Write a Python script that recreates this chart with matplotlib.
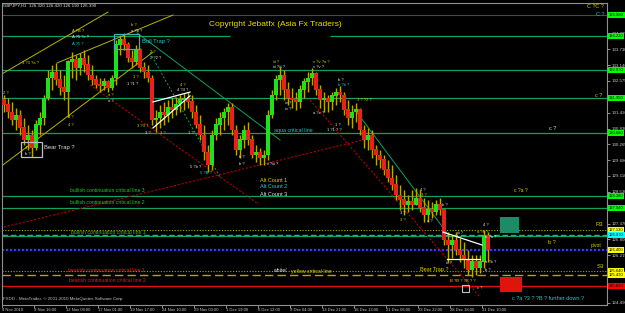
import matplotlib
matplotlib.use("Agg")
import matplotlib.pyplot as plt
from matplotlib.patches import Rectangle
from matplotlib.transforms import blended_transform_factory

plt.rcParams["font.family"] = ["Liberation Sans", "DejaVu Sans"]

W, H = 625, 313

# --- price data: one drawn candle per 8 H1 bars (GBPJPY H1, Nov-Dec 2010) ---
bars_per_candle = 8
first_open = 131.88
highs = [
    132.06, 131.95, 131.81, 131.59, 131.52, 131.22, 130.97, 130.78, 131.15, 131.44,
    132.06, 132.97, 133.16, 133.23, 132.97, 132.79, 133.34, 133.63, 133.52, 133.60,
    133.71, 133.52, 133.16, 132.79, 132.68, 132.68, 132.61, 132.79, 134.07, 134.25,
    134.32, 134.00, 133.71, 133.89, 133.78, 133.27, 133.16, 132.79, 131.52, 131.70,
    131.81, 131.88, 131.95, 131.99, 132.06, 132.14, 132.17, 132.06, 131.70, 131.33,
    130.97, 130.24, 130.78, 131.22, 131.44, 131.59, 131.77, 131.77, 130.97, 130.60,
    130.97, 131.08, 130.60, 130.24, 130.13, 130.06, 131.52, 132.25, 132.79, 133.08,
    132.97, 132.54, 132.32, 132.17, 132.43, 132.68, 132.90, 133.05, 132.90, 132.43,
    132.17, 132.06, 132.17, 132.32, 132.39, 132.17, 131.88, 131.70, 131.77, 131.59,
    130.97, 130.86, 130.78, 130.24, 130.06, 129.87, 129.69, 129.51, 129.14, 128.78,
    128.60, 128.41, 128.60, 128.67, 128.60, 128.30, 128.23, 128.16, 128.23, 128.30,
    127.87, 127.06, 126.95, 127.06, 126.84, 126.70, 126.40, 126.22, 126.22, 126.22,
    127.13, 127.06,
]
lows = [
    131.44, 131.22, 130.97, 130.78, 130.60, 130.24, 130.06, 129.80, 130.06, 130.60,
    130.97, 131.88, 132.25, 132.43, 132.06, 131.88, 131.26, 132.68, 132.61, 132.79,
    132.90, 132.61, 132.43, 132.32, 132.17, 132.25, 132.17, 132.25, 132.43, 133.52,
    133.71, 133.27, 133.05, 133.16, 132.90, 132.68, 132.54, 130.97, 130.71, 130.86,
    130.97, 131.08, 131.22, 131.33, 131.44, 131.52, 131.59, 131.22, 130.86, 130.42,
    129.69, 129.25, 129.33, 130.42, 130.60, 130.78, 130.97, 130.60, 129.87, 129.76,
    130.13, 130.24, 129.76, 129.62, 129.51, 129.51, 129.69, 131.22, 131.88, 132.06,
    131.88, 131.70, 131.59, 131.52, 131.59, 131.95, 132.17, 132.43, 132.06, 131.59,
    131.44, 131.44, 131.52, 131.70, 131.81, 131.33, 130.97, 130.86, 131.08, 130.60,
    130.13, 130.06, 129.76, 129.51, 129.40, 129.14, 128.89, 128.60, 128.23, 127.87,
    127.68, 127.79, 127.87, 128.05, 127.79, 127.43, 127.43, 127.57, 127.68, 127.68,
    126.59, 125.97, 126.11, 126.22, 125.97, 125.75, 125.49, 125.42, 125.49, 125.57,
    125.75, 125.97,
]
closes = [
    131.70, 131.44, 131.15, 131.33, 130.86, 130.42, 130.60, 130.13, 130.97, 131.22,
    131.95, 132.68, 132.90, 132.61, 132.32, 132.17, 133.27, 133.34, 133.05, 133.41,
    133.16, 132.79, 132.61, 132.43, 132.39, 132.54, 132.32, 132.68, 133.89, 134.07,
    133.89, 133.41, 133.27, 133.71, 133.05, 132.90, 132.68, 131.15, 131.22, 131.44,
    131.33, 131.59, 131.52, 131.73, 131.88, 131.95, 131.81, 131.44, 130.97, 130.60,
    129.98, 129.51, 130.60, 130.97, 131.22, 131.44, 131.59, 130.78, 130.06, 130.42,
    130.78, 130.42, 129.87, 129.98, 129.76, 129.87, 131.33, 132.06, 132.61, 132.79,
    132.25, 131.95, 131.88, 131.81, 132.25, 132.54, 132.68, 132.83, 132.25, 131.88,
    131.95, 131.81, 132.03, 132.17, 132.06, 131.52, 131.22, 131.44, 131.52, 130.78,
    130.42, 130.60, 130.06, 129.87, 129.69, 129.33, 129.03, 128.78, 128.41, 128.23,
    128.05, 128.16, 128.05, 128.30, 127.94, 127.68, 127.87, 127.79, 128.05, 127.87,
    126.77, 126.59, 126.77, 126.40, 126.22, 126.04, 125.68, 125.97, 125.75, 125.97,
    126.95, 126.39,
]

# --- horizontal levels ---
green_levels = [132.97, 131.95, 130.68, 128.38, 127.94, 126.93]
copyright_level = 134.22
top_level = 134.98
r3_level = 127.13
bull1_level = 126.97
pivot_level = 126.40
s3_level = 125.64
yellow_dash_level = 125.49
red_level = 125.09

# right-hand price boxes (price, colour)
price_boxes = [
    (134.98, "#00ff00"), (134.22, "#00ff00"), (132.97, "#00ff00"),
    (131.95, "#00ff00"), (130.68, "#00ff00"), (128.38, "#00ff00"),
    (127.94, "#00ff00"), (127.13, "#ffff00"), (126.97, "#00ffff"),
    (126.40, "#ffff00"), (125.64, "#ffff00"), (125.49, "#ffff00"),
    (125.09, "#ff0000"),
]

# analyst trend lines ((bar, price), (bar, price))
yellow_lines = [((-4, 132.79), (212, 135.09)),
                ((110, 133.23), (342, 134.98)),
                ((-4, 129.43), (302, 133.63))]
red_lines = [((176, 132.43), (510, 128.12)),
             ((-4, 127.21), (730, 130.46)),
             ((616, 131.88), (956, 124.69))]
green_lines = [((270, 134.33), (556, 130.42)),
               ((706, 131.52), (896, 126.88))]
green_dotted = [((296, 133.60), (436, 129.07))]
white_lines = [((302, 131.81), (376, 132.17)),
               ((302, 130.86), (376, 132.03)),
               ((882, 127.06), (960, 126.59)),
               ((890, 126.08), (956, 126.08))]

ytick_values = [124.490, 125.060, 125.640, 126.215, 126.800, 127.370, 127.950,
                128.530, 129.110, 129.680, 130.265, 130.830, 131.420, 131.995,
                132.575, 133.140, 133.730, 134.295]
xtick_labels = ["4 Nov 2010", "9 Nov 16:00", "12 Nov 08:00", "17 Nov 01:00",
                "19 Nov 17:00", "24 Nov 10:00", "29 Nov 03:00", "1 Dec 19:00",
                "6 Dec 12:00", "9 Dec 04:00", "13 Dec 21:00", "16 Dec 13:00",
                "21 Dec 06:00", "23 Dec 22:00", "28 Dec 18:00", "31 Dec 10:00"]
bars_per_label = 64

fig = plt.figure(figsize=(W / 100, H / 100), dpi=100, facecolor="black")
ax = fig.add_axes([2 / W, 8 / H, 605 / W, 302 / H], facecolor="black")
ax.set_xlim(0, 1210)
ax.set_ylim(124.40, 135.42)

GREEN = "#12a05a"
YEL = "#d8d000"
CYAN = "#20c8c8"
WHITE = "#e0e0e0"

# horizontal lines
for lv in green_levels:
    ax.axhline(lv, color=GREEN, lw=0.9, zorder=1)
ax.axhline(top_level, color="#0a6a3a", lw=0.8, zorder=1)
ax.hlines(copyright_level, 0, 456, color=GREEN, lw=0.9, zorder=1)
ax.hlines(copyright_level, 656, 1210, color=GREEN, lw=0.9, zorder=1)
ax.axhline(r3_level, color="#b0a800", lw=0.8, ls=(0, (1, 1.5)), zorder=1)
ax.axhline(bull1_level, color="#20b090", lw=1.0, ls=(0, (4, 2)), zorder=1)
ax.axhline(pivot_level, color="#3838ff", lw=1.6, ls=(0, (1, 0.8)), zorder=1)
ax.axhline(s3_level, color="#a8a000", lw=0.8, ls=(0, (1, 1.5)), zorder=1)
ax.axhline(yellow_dash_level, color="#b0a800", lw=1.0, ls=(0, (6, 3)), zorder=1)
ax.axhline(red_level, color="#e01010", lw=1.0, zorder=1)

# trend lines
for (x0, y0), (x1, y1) in yellow_lines:
    ax.plot([x0, x1], [y0, y1], color="#b4b400", lw=0.7, zorder=2)
for (x0, y0), (x1, y1) in red_lines:
    ax.plot([x0, x1], [y0, y1], color="#b00000", lw=0.8, ls=(0, (2, 1.5)), zorder=2)
for (x0, y0), (x1, y1) in green_lines:
    ax.plot([x0, x1], [y0, y1], color=GREEN, lw=0.7, zorder=2)
for (x0, y0), (x1, y1) in green_dotted:
    ax.plot([x0, x1], [y0, y1], color=GREEN, lw=0.7, ls=(0, (2, 2)), zorder=2)
for (x0, y0), (x1, y1) in white_lines:
    ax.plot([x0, x1], [y0, y1], color="white", lw=0.9, zorder=4)

# candles
opens = [first_open] + closes[:-1]
for k, (o, h, l, c) in enumerate(zip(opens, highs, lows, closes)):
    x = k * bars_per_candle + bars_per_candle / 2
    col = "#1ee01e" if c >= o else "#e82020"
    ax.vlines(x, l, h, color="#b8a800", lw=1.0, zorder=3)
    ax.bar(x, abs(c - o) + 0.02, bottom=min(o, c), width=7.0, color=col,
           linewidth=0, zorder=3)

# boxes
ax.add_patch(Rectangle((224, 133.74), 50, 0.55, fill=False, ec="#40b0b0", lw=0.9, zorder=5))
ax.add_patch(Rectangle((38, 129.80), 42, 0.55, fill=False, ec="#c0c0c0", lw=0.9, zorder=5))
ax.add_patch(Rectangle((920, 124.87), 14, 0.26, fill=False, ec="#c0c0c0", lw=0.8, zorder=5))
ax.add_patch(Rectangle((996, 127.03), 38, 0.58, color="#1e8a68", lw=0, zorder=2))
ax.add_patch(Rectangle((996, 124.87), 44, 0.55, color="#e0140a", lw=0, zorder=2))

# axes styling
for sp in ax.spines.values():
    sp.set_color("#909090")
    sp.set_linewidth(0.8)
ax.yaxis.tick_right()
ax.set_yticks(ytick_values)
ax.set_yticklabels([f"{v:.3f}" for v in ytick_values])
ax.set_xticks([i * bars_per_label for i in range(len(xtick_labels))])
ax.set_xticklabels(xtick_labels)
ax.tick_params(axis="y", colors="#c8c8c8", labelsize=3.2, length=2, width=0.5, pad=1)
ax.tick_params(axis="x", colors="#c8c8c8", labelsize=3.0, length=2, width=0.5, pad=0.5)
for t in ax.get_xticklabels():
    t.set_ha("left")

# price boxes on the right
tr = blended_transform_factory(ax.transAxes, ax.transData)
for p, col in price_boxes:
    ax.text(1.003, p, f"{p:.3f}", transform=tr, ha="left", va="center",
            fontsize=3.0, color="black", clip_on=False, zorder=6,
            bbox=dict(boxstyle="square,pad=0.25", fc=col, ec="none"))


def label(px, py, s, color, size=3.2, **kw):
    fig.text(px / W, 1 - py / H, s, color=color, fontsize=size, ha="left",
             va="center", **kw)


label(3, 6, "GBPJPY,H1  126.320 126.420 126.190 126.390", WHITE, 3.2)
label(209, 25, "Copyright Jebatfx (Asia Fx Traders)", "#e8e000", 6.0)
label(142, 41, "Bull Trap ?", CYAN, 4.2)
label(44, 148, "Bear Trap ?", WHITE, 4.2)
label(274, 130, "aqua critical line", CYAN, 3.8)
label(260, 180, "Alt Count 1", YEL, 4.0)
label(260, 187, "Alt Count 2", CYAN, 4.0)
label(260, 194, "Alt Count 3", WHITE, 4.0)
label(70, 190, "bullish continuation critical line 3", "#30c030", 3.7)
label(70, 203, "bullish continuation critical line 2", "#30c030", 3.7)
label(71, 233, "bullish continuation critical line 1", "#30c030", 3.7)
label(68, 270, "bearish continuation critical line 1", "#e02020", 3.7)
label(69, 281, "bearish continuation critical line 2", "#e02020", 3.7)
label(273, 271, "white/", WHITE, 3.7)
label(291, 271, "yellow critical line", YEL, 3.7)
label(420, 270, "Bear Trap ?", YEL, 4.0)
label(596, 225, "R3", YEL, 4.2)
label(591, 246, "pivot", YEL, 3.6)
label(597, 266, "S3", YEL, 4.2)
label(548, 242, "b ?", YEL, 4.0)
label(512, 299, "c ?a ?3 ? ?B ? further down ?", CYAN, 4.0)
label(587, 7, "C ?C ?", YEL, 4.0)
label(596, 15, "C ?", CYAN, 4.0)
label(595, 95, "c ?", YEL, 4.0)
label(549, 129, "c ?", WHITE, 4.0)
label(514, 191, "c ?a ?", YEL, 3.6)
label(3, 299, "FXDD - MetaTrader, \u00a9 2001-2010 MetaQuotes Software Corp.", "#c0c0c0", 3.2)

wave_labels = [
    (72, 31, "A ?B ?", YEL), (72, 37, "A ?5 ?c ?", WHITE), (72, 44, "A ?5 ?", CYAN),
    (131, 25, "b ?", YEL), (131, 31, "a ?b ?", WHITE), (22, 63, "3 ?3 ?a ?", YEL),
    (3, 93, "2 ?", YEL), (150, 52, "2 ?", YEL), (150, 58, "2 ?2 ?", WHITE),
    (133, 77, "1 ?", YEL), (127, 84, "1 ?1 ?", WHITE), (108, 95, "a ?", YEL),
    (108, 101, "a ?", WHITE), (180, 85, "4 ?", YEL), (177, 90, "4 ?4 ?", WHITE),
    (68, 117, "4 ?", YEL), (68, 125, "4 ?", YEL), (25, 148, "4 ?", YEL),
    (25, 154, "b ?", WHITE), (137, 126, "3 ?3 ?", YEL), (145, 133, "3 ?", WHITE),
    (160, 133, "3 ?", YEL), (188, 133, "1 ?", WHITE), (190, 167, "5 ?b ?", WHITE),
    (200, 173, "5 ?B ?", CYAN), (239, 157, "b ?", WHITE), (239, 164, "b ?", WHITE),
    (285, 103, "iv ?", WHITE), (285, 109, "iv ?", WHITE), (267, 164, "ii ?iii ?", WHITE),
    (273, 62, "iii ?", YEL), (273, 67, "iii ?iii ?", WHITE), (313, 62, "v ?v ?a ?", YEL),
    (313, 67, "v ?v ?", WHITE), (338, 80, "b ?", WHITE), (338, 85, "b ?b ?", CYAN),
    (357, 100, "3 ? ?2 ?", YEL), (313, 113, "a ?e ?", WHITE), (335, 125, "1 ?", WHITE),
    (327, 130, "1 ?1 ? ?", WHITE), (420, 190, "4 ?", WHITE), (421, 195, "3 ?", YEL),
    (442, 205, "b ?", WHITE), (400, 213, "3 ?", WHITE), (400, 220, "3 ?", YEL),
    (427, 221, "a ?", WHITE), (457, 233, "iii ?", WHITE), (446, 263, "iii ?", WHITE),
    (483, 225, "4 ?", WHITE), (477, 232, "a ?a ?", YEL), (485, 237, "a ?a ?", WHITE),
    (485, 262, "a ?b ?", WHITE), (485, 270, "b ?", WHITE),
    (450, 281, "B ?B ? ?B ? ?", YEL), (477, 288, "c ?", WHITE),
]
for px, py, s, col in wave_labels:
    label(px, py, s, col, 3.0)

fig.savefig("out.png", dpi=100, facecolor="black")
